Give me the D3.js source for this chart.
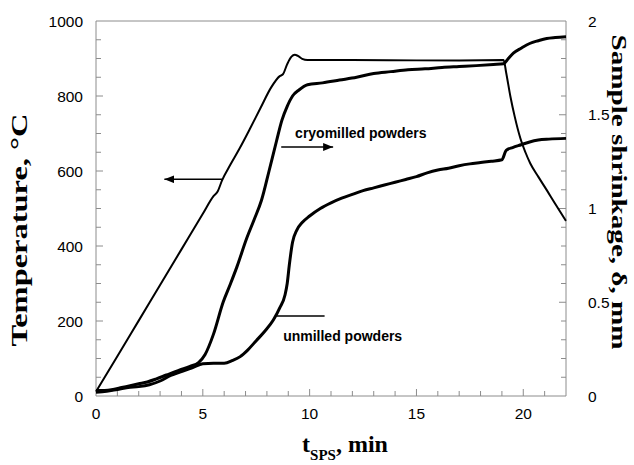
<!DOCTYPE html>
<html>
<head>
<meta charset="utf-8">
<script src="https://cdn.jsdelivr.net/npm/d3@7"></script>
<style>
  body { margin: 0; background: #fff; }
  svg { display: block; }
  .tick-label { font-family: "Liberation Sans", Arial, sans-serif; font-size: 15.5px; fill: #000; }
  .axis-title { font-family: "Liberation Serif", "Times New Roman", serif; font-weight: bold; fill: #000; }
  .note { font-family: "Liberation Sans", Arial, sans-serif; font-weight: bold; font-size: 14px; fill: #000; }
</style>
</head>
<body>
<div id="chart"></div>
<script>
// temperature, left axis (t in min, T in °C)
const tempTime = [0, 1, 2, 3, 4, 5, 5.5, 5.7, 5.9, 6.3, 6.7, 7.2, 7.7, 8.2, 8.6, 8.75, 8.95, 9.15, 9.3, 9.45, 9.65, 9.9, 12, 15, 17, 19.08, 19.2, 19.4, 19.6, 19.86, 20.1, 20.33, 20.7, 21.1, 21.5, 22];
const tempValues = [12, 106, 201, 296, 391, 486, 533, 546, 575, 618, 658, 712, 768, 823, 853, 858, 885, 905, 910, 907, 899, 896, 896, 895, 895, 896, 862, 798, 745, 688, 650, 620, 585, 549, 512, 467];

// shrinkage, right axis (mm)
const cryoTime = [0, 0.4, 0.8, 1.2, 1.6, 2.0, 2.4, 2.8, 3.3, 3.9, 4.4, 4.8, 5.1, 5.5, 5.95, 6.3, 6.6, 7.05, 7.4, 7.75, 8.1, 8.45, 8.7, 8.95, 9.2, 9.5, 9.9, 10.6, 11.4, 12.2, 13, 13.8, 14.6, 15.4, 16.2, 17, 17.8, 18.6, 19.08, 19.3, 19.55, 19.9, 20.3, 20.7, 21.1, 21.5, 22];
const cryoShrinkage = [0.03, 0.03, 0.035, 0.045, 0.055, 0.065, 0.075, 0.09, 0.112, 0.138, 0.158, 0.178, 0.22, 0.33, 0.5, 0.6, 0.69, 0.84, 0.94, 1.045, 1.2, 1.36, 1.47, 1.545, 1.6, 1.632, 1.66, 1.67, 1.685, 1.7, 1.72, 1.73, 1.74, 1.745, 1.752, 1.757, 1.762, 1.768, 1.772, 1.8, 1.83, 1.855, 1.88, 1.895, 1.907, 1.912, 1.916];

const unmilledTime = [0, 0.5, 1, 1.5, 2, 2.5, 3, 3.5, 4, 4.5, 5, 5.5, 6, 6.4, 6.75, 7.1, 7.5, 7.9, 8.3, 8.6, 8.85, 8.95, 9.05, 9.2, 9.4, 9.65, 10, 10.5, 11, 11.5, 12, 12.5, 13, 13.5, 14, 14.5, 15, 15.5, 16, 16.5, 17, 17.5, 18, 18.5, 19, 19.2, 19.5, 19.9, 20.3, 20.7, 21.2, 22];
const unmilledShrinkage = [0.02, 0.025, 0.035, 0.045, 0.05, 0.06, 0.08, 0.11, 0.13, 0.15, 0.172, 0.175, 0.175, 0.19, 0.21, 0.245, 0.295, 0.345, 0.405, 0.47, 0.54, 0.6, 0.7, 0.82, 0.885, 0.925, 0.96, 1.0, 1.03, 1.055, 1.075, 1.095, 1.11, 1.125, 1.14, 1.155, 1.17, 1.19, 1.205, 1.215, 1.228, 1.238, 1.245, 1.252, 1.26, 1.31, 1.325, 1.34, 1.355, 1.365, 1.37, 1.374];

const xTicks = [0, 5, 10, 15, 20];
const leftTicks = [0, 200, 400, 600, 800, 1000];
const rightTicks = [0, 0.5, 1, 1.5, 2];

const width = 634, height = 465;
const margin = { top: 21, right: 68, bottom: 69, left: 96 };
const w = width - margin.left - margin.right;
const h = height - margin.top - margin.bottom;

const svg = d3.select("#chart").append("svg")
  .attr("width", width)
  .attr("height", height);

const g = svg.append("g")
  .attr("transform", `translate(${margin.left},${margin.top})`);

const x = d3.scaleLinear().domain([0, 22]).range([0, w]);
const yT = d3.scaleLinear().domain([0, 1000]).range([h, 0]);
const yS = d3.scaleLinear().domain([0, 2]).range([h, 0]);

const axisColor = "#8c8c8c";

// frame lines (top + axes)
g.append("line").attr("x1", 0).attr("x2", w).attr("y1", 0).attr("y2", 0).attr("stroke", axisColor);
g.append("line").attr("x1", 0).attr("x2", 0).attr("y1", 0).attr("y2", h).attr("stroke", axisColor);
g.append("line").attr("x1", w).attr("x2", w).attr("y1", 0).attr("y2", h).attr("stroke", axisColor);
g.append("line").attr("x1", 0).attr("x2", w).attr("y1", h).attr("y2", h).attr("stroke", axisColor);

// inside ticks
g.selectAll(".xt").data(d3.range(1, 22)).join("line")
  .attr("x1", d => x(d)).attr("x2", d => x(d))
  .attr("y1", h).attr("y2", d => h - (d % 5 === 0 ? 7 : 5))
  .attr("stroke", axisColor);
g.selectAll(".lt").data(d3.range(50, 1000, 50)).join("line")
  .attr("y1", d => yT(d)).attr("y2", d => yT(d))
  .attr("x1", 0).attr("x2", d => (d % 200 === 0 ? 7 : 5))
  .attr("stroke", axisColor);
g.selectAll(".rt").data(d3.range(1, 20).map(d => d / 10)).join("line")
  .attr("y1", d => yS(d)).attr("y2", d => yS(d))
  .attr("x1", w).attr("x2", (d, i) => w - ((i + 1) % 5 === 0 ? 7 : 5))
  .attr("stroke", axisColor);

// tick labels
g.selectAll(".xl").data(xTicks).join("text")
  .attr("class", "tick-label")
  .attr("x", d => x(d)).attr("y", h + 23)
  .attr("text-anchor", "middle")
  .text(d => d);
g.selectAll(".yl").data(leftTicks).join("text")
  .attr("class", "tick-label")
  .attr("x", -13).attr("y", d => yT(d) + 5.5)
  .attr("text-anchor", "end")
  .text(d => d);
g.selectAll(".rl").data(rightTicks).join("text")
  .attr("class", "tick-label")
  .attr("x", w + 22).attr("y", d => yS(d) + 5.5)
  .attr("text-anchor", "start")
  .text(d => d);

// curves
const tempLine = d3.line()
  .x(d => x(d[0])).y(d => yT(d[1]))
  .curve(d3.curveMonotoneX);
const shrinkLine = d3.line()
  .x(d => x(d[0])).y(d => yS(d[1]))
  .curve(d3.curveMonotoneX);

g.append("path")
  .datum(d3.zip(tempTime, tempValues))
  .attr("fill", "none").attr("stroke", "#000").attr("stroke-width", 2)
  .attr("d", tempLine);

g.append("path")
  .datum(d3.zip(unmilledTime, unmilledShrinkage))
  .attr("fill", "none").attr("stroke", "#000").attr("stroke-width", 3)
  .attr("stroke-linejoin", "round")
  .attr("d", shrinkLine);

g.append("path")
  .datum(d3.zip(cryoTime, cryoShrinkage))
  .attr("fill", "none").attr("stroke", "#000").attr("stroke-width", 3)
  .attr("stroke-linejoin", "round")
  .attr("d", shrinkLine);

// arrows and notes
svg.append("defs").append("marker")
  .attr("id", "head")
  .attr("viewBox", "0 0 10 8")
  .attr("refX", 10).attr("refY", 4)
  .attr("markerWidth", 10).attr("markerHeight", 8)
  .attr("markerUnits", "userSpaceOnUse")
  .attr("orient", "auto")
  .append("path").attr("d", "M0,0L10,4L0,8Z").attr("fill", "#000");

function arrow(x1, x2, yy, head) {
  const l = g.append("line")
    .attr("x1", x1).attr("x2", x2).attr("y1", yy).attr("y2", yy)
    .attr("stroke", "#000").attr("stroke-width", 1.5);
  if (head) l.attr("marker-end", "url(#head)");
}

arrow(x(5.9), x(3.2), yT(578), true);
arrow(x(8.67), x(11.1), yS(1.328), true);
arrow(x(8.47), x(10.7), yS(0.427), false);

g.append("text").attr("class", "note")
  .attr("x", x(9.32)).attr("y", yS(1.376))
  .text("cryomilled powders");
g.append("text").attr("class", "note")
  .attr("x", x(8.76)).attr("y", yS(0.293))
  .text("unmilled powders");

// axis titles
svg.append("text").attr("class", "axis-title")
  .attr("transform", "translate(27,230) rotate(-90)")
  .attr("text-anchor", "middle")
  .attr("font-size", 24)
  .attr("textLength", 233).attr("lengthAdjust", "spacingAndGlyphs")
  .text("Temperature, °C");

svg.append("text").attr("class", "axis-title")
  .attr("transform", "translate(612,192) rotate(90)")
  .attr("text-anchor", "middle")
  .attr("font-size", 22)
  .attr("textLength", 315).attr("lengthAdjust", "spacingAndGlyphs")
  .text("Sample shrinkage, δ, mm");

const xt = svg.append("text").attr("class", "axis-title")
  .attr("x", 345).attr("y", 452)
  .attr("text-anchor", "middle")
  .attr("font-size", 24);
xt.append("tspan").text("t");
xt.append("tspan").attr("font-size", 15).attr("dy", 8).text("SPS");
xt.append("tspan").attr("dy", -8).text(", min");
</script>
</body>
</html>
